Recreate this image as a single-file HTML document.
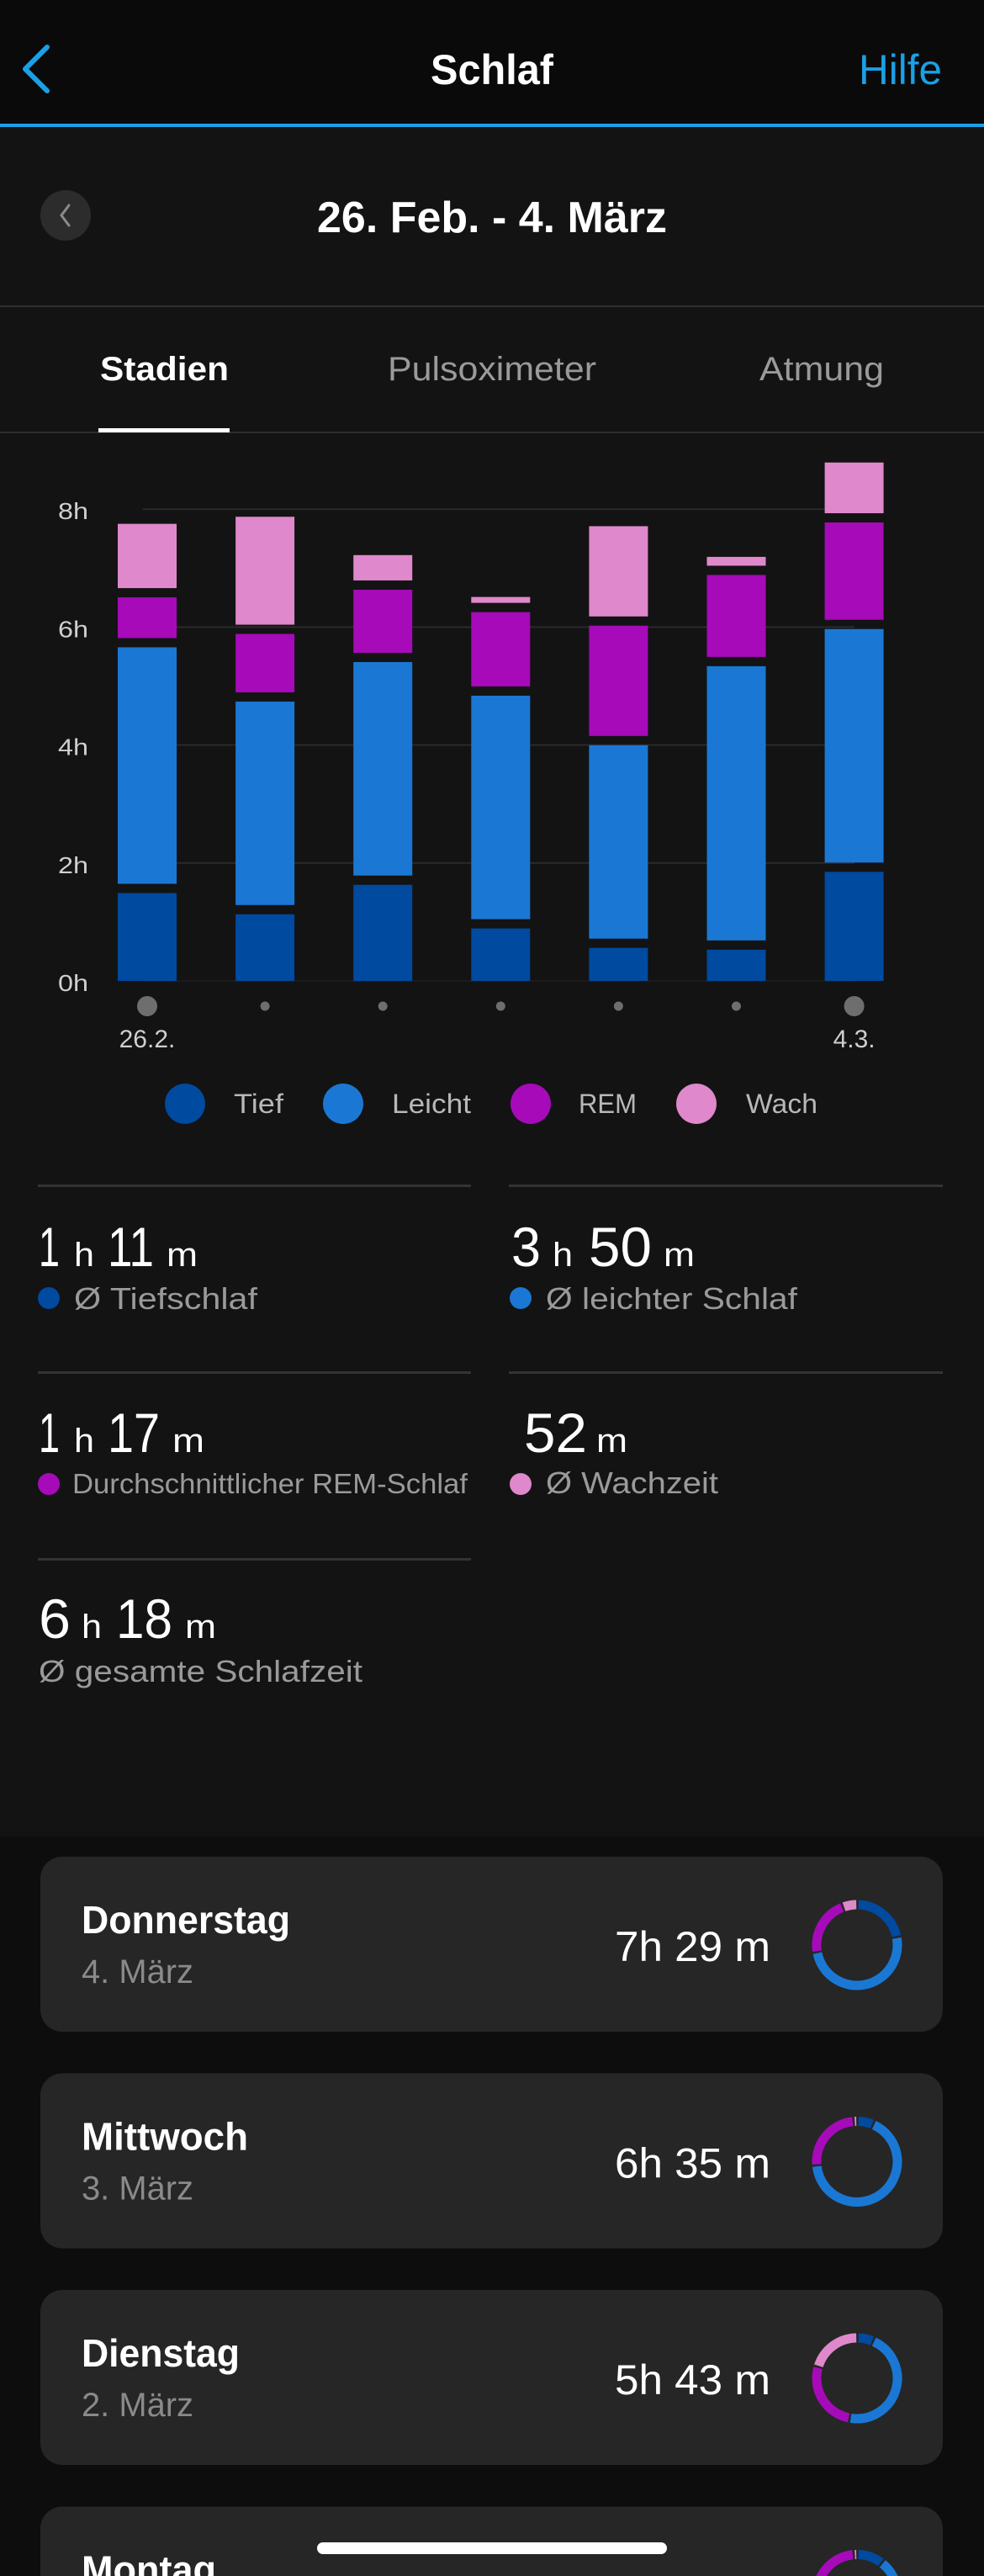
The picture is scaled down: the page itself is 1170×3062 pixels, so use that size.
<!DOCTYPE html>
<html><head><meta charset="utf-8">
<style>
html,body{margin:0;padding:0;background:#0d0d0d;}
svg{display:block;font-family:"Liberation Sans",sans-serif;}
</style></head>
<body>
<svg id="page" width="1170" height="3062" viewBox="0 0 1170 3062" xmlns="http://www.w3.org/2000/svg">
  <rect x="0" y="0" width="1170" height="3062" fill="#0d0d0d"/>
  <rect x="0" y="149" width="1170" height="2034" fill="#131313"/>
  <rect x="0" y="0" width="1170" height="147" fill="#0a0a0a"/>
  <rect x="0" y="147" width="1170" height="4" fill="#1aa0e6"/>

  <path d="M56,56 L30,82 L56,108" fill="none" stroke="#1aa0e6" stroke-width="6" stroke-linecap="round" stroke-linejoin="round"/>
  <text x="512" y="100" font-size="50" font-weight="bold" fill="#fff" textLength="146" lengthAdjust="spacingAndGlyphs">Schlaf</text>
  <text x="1021" y="100" font-size="50" fill="#1aa0e6" textLength="99" lengthAdjust="spacingAndGlyphs">Hilfe</text>

  <g>
    <circle cx="78" cy="256" r="30" fill="#2c2c2c"/>
    <path d="M82,244 L73,256 L82,268" fill="none" stroke="#8a8a8a" stroke-width="3" stroke-linecap="round"/>
  </g>
  <text x="377" y="276" font-size="52" font-weight="bold" fill="#fff" textLength="416" lengthAdjust="spacingAndGlyphs">26. Feb. - 4. März</text>
  <rect x="0" y="363" width="1170" height="2" fill="#2e2e2e"/>

  <text x="119" y="452" font-size="40" font-weight="bold" fill="#fff" textLength="153" lengthAdjust="spacingAndGlyphs">Stadien</text>
  <text x="461" y="452" font-size="40" fill="#9a9a9a" textLength="248" lengthAdjust="spacingAndGlyphs">Pulsoximeter</text>
  <text x="903" y="452" font-size="40" fill="#9a9a9a" textLength="148" lengthAdjust="spacingAndGlyphs">Atmung</text>
  <rect x="0" y="513" width="1170" height="2" fill="#2e2e2e"/>
  <rect x="117" y="509" width="156" height="5" fill="#fff"/>

  <g id="chart"></g>

  <g>
    <g><circle cx="220" cy="1312" r="24" fill="#004a9f"/><text x="278" y="1323" font-size="32" fill="#b8b8b8" textLength="59" lengthAdjust="spacingAndGlyphs">Tief</text></g>
    <g><circle cx="408" cy="1312" r="24" fill="#1a78d4"/><text x="466" y="1323" font-size="32" fill="#b8b8b8" textLength="94" lengthAdjust="spacingAndGlyphs">Leicht</text></g>
    <g><circle cx="631" cy="1312" r="24" fill="#a60ab9"/><text x="688" y="1323" font-size="32" fill="#b8b8b8" textLength="69" lengthAdjust="spacingAndGlyphs">REM</text></g>
    <g><circle cx="828" cy="1312" r="24" fill="#df88cb"/><text x="887" y="1323" font-size="32" fill="#b8b8b8" textLength="85" lengthAdjust="spacingAndGlyphs">Wach</text></g>
  </g>

  <g fill="#fff" font-size="66">
    <rect x="45" y="1408" width="515" height="3" fill="#333"/>
    <rect x="605" y="1408" width="516" height="3" fill="#333"/>
    <rect x="45" y="1630" width="515" height="3" fill="#333"/>
    <rect x="605" y="1630" width="516" height="3" fill="#333"/>
    <rect x="45" y="1852" width="515" height="3" fill="#333"/>

    <g>
      <text x="46" y="1505" textLength="25" lengthAdjust="spacingAndGlyphs">1</text>
      <text x="88" y="1505" font-size="40" textLength="24" lengthAdjust="spacingAndGlyphs">h</text>
      <text x="128" y="1505" textLength="55" lengthAdjust="spacingAndGlyphs">11</text>
      <text x="198" y="1505" font-size="40" textLength="37" lengthAdjust="spacingAndGlyphs">m</text>
      <circle cx="58" cy="1543" r="13" fill="#004a9f"/>
      <text x="88" y="1556" font-size="36" fill="#9a9a9a" textLength="218" lengthAdjust="spacingAndGlyphs">Ø Tiefschlaf</text>
    </g>
    <g>
      <text x="608" y="1505" textLength="35" lengthAdjust="spacingAndGlyphs">3</text>
      <text x="657" y="1505" font-size="40" textLength="24" lengthAdjust="spacingAndGlyphs">h</text>
      <text x="700" y="1505" textLength="75" lengthAdjust="spacingAndGlyphs">50</text>
      <text x="789" y="1505" font-size="40" textLength="37" lengthAdjust="spacingAndGlyphs">m</text>
      <circle cx="619" cy="1543" r="13" fill="#1a78d4"/>
      <text x="649" y="1556" font-size="36" fill="#9a9a9a" textLength="299" lengthAdjust="spacingAndGlyphs">Ø leichter Schlaf</text>
    </g>
    <g>
      <text x="46" y="1726" textLength="25" lengthAdjust="spacingAndGlyphs">1</text>
      <text x="88" y="1726" font-size="40" textLength="24" lengthAdjust="spacingAndGlyphs">h</text>
      <text x="128" y="1726" textLength="62" lengthAdjust="spacingAndGlyphs">17</text>
      <text x="205" y="1726" font-size="40" textLength="38" lengthAdjust="spacingAndGlyphs">m</text>
      <circle cx="58" cy="1764" r="13" fill="#a60ab9"/>
      <text x="86" y="1775" font-size="33" fill="#9a9a9a" textLength="470" lengthAdjust="spacingAndGlyphs">Durchschnittlicher REM-Schlaf</text>
    </g>
    <g>
      <text x="623" y="1726" textLength="75" lengthAdjust="spacingAndGlyphs">52</text>
      <text x="709" y="1726" font-size="40" textLength="37" lengthAdjust="spacingAndGlyphs">m</text>
      <circle cx="619" cy="1764" r="13" fill="#df88cb"/>
      <text x="649" y="1775" font-size="36" fill="#9a9a9a" textLength="205" lengthAdjust="spacingAndGlyphs">Ø Wachzeit</text>
    </g>
    <g>
      <text x="46" y="1947" textLength="38" lengthAdjust="spacingAndGlyphs">6</text>
      <text x="97" y="1947" font-size="40" textLength="24" lengthAdjust="spacingAndGlyphs">h</text>
      <text x="138" y="1947" textLength="67" lengthAdjust="spacingAndGlyphs">18</text>
      <text x="220" y="1947" font-size="40" textLength="37" lengthAdjust="spacingAndGlyphs">m</text>
      <text x="46" y="1999" font-size="36" fill="#9a9a9a" textLength="385" lengthAdjust="spacingAndGlyphs">Ø gesamte Schlafzeit</text>
    </g>
  </g>

  <g id="cards"></g>

  <rect x="377" y="3022" width="416" height="14" rx="7" fill="#fff"/>
</svg>

<script>
const days = ["26.2.", "27.2.", "28.2.", "1.3.", "2.3.", "3.3.", "4.3."];
const deepHours  = [1.49, 1.13, 1.63, 0.89, 0.56, 0.53, 1.85];
const lightHours = [4.01, 3.45, 3.62, 3.79, 3.28, 4.65, 3.96];
const remHours   = [0.69, 0.99, 1.07, 1.26, 1.87, 1.39, 1.65];
const wakeHours  = [1.09, 1.83, 0.43, 0.10, 1.53, 0.15, 0.86];
const yTicks = [0, 2, 4, 6, 8];
const yTickLabels = ["0h", "2h", "4h", "6h", "8h"];
const shownDayLabels = ["26.2.", "4.3."];

const cardDays = ["Donnerstag", "Mittwoch", "Dienstag", "Montag"];
const cardDates = ["4. März", "3. März", "2. März", "1. März"];
const cardDurations = ["7h 29 m", "6h 35 m", "5h 43 m", "6h 30 m"];
const cardDeep  = [94, 22, 22, 37];
const cardLight = [218, 232, 160, 240];
const cardRem   = [96, 87, 92, 75];
const cardWake  = [25, 5, 71, 5];

const NS = "http://www.w3.org/2000/svg";
const colors = ["#004a9f", "#1a78d4", "#a60ab9", "#df88cb"];
function mk(tag, attrs, parent){
  const e = document.createElementNS(NS, tag);
  for (const k in attrs) e.setAttribute(k, attrs[k]);
  parent.appendChild(e);
  return e;
}
const baseY = 1166, pxPerHour = 70.1, gap = 11;
function yScale(h){ return baseY - h * pxPerHour; }
function xCenter(i){ return 175 + i * 140.1; }
const barW = 70;

const chart = document.getElementById("chart");
yTicks.forEach((t, i) => {
  const line = mk("rect", {x: 170, y: yScale(t) - 1, width: 846, height: 2, fill: t === 0 ? "#1c1c1c" : "#2a2a2a"}, chart);
  
  
  const lbl = mk("text", {x: 69, y: yScale(t) + 12, "font-size": 28, fill: "#cfcfcf", textLength: 36, lengthAdjust: "spacingAndGlyphs"}, chart);
  lbl.textContent = yTickLabels[i];
  
  
});

days.forEach((d, i) => {
  const series = [deepHours[i], lightHours[i], remHours[i], wakeHours[i]];
  let cum = 0;
  series.forEach((v, s) => {
    const bottom = yScale(cum) - s * gap;
    const h = v * pxPerHour;
    const r = mk("rect", {x: xCenter(i) - barW / 2, y: bottom - h, width: barW, height: h, fill: colors[s]}, chart);
    
    
    cum += v;
  });
  const big = (i === 0 || i === days.length - 1);
  const dot = mk("circle", {cx: xCenter(i), cy: 1196, r: big ? 12 : 5.5, fill: "#6e6e6e"}, chart);
  
  
  if (shownDayLabels.includes(d)) {
    const t = mk("text", {x: xCenter(i), y: 1245, "font-size": 30, fill: "#cfcfcf", "text-anchor": "middle"}, chart);
    t.textContent = d;
    
    
  }
});

const cards = document.getElementById("cards");
const titleLens = [248, 198, 188, 160];
function arcPath(cx, cy, r, a0, a1){
  const p = a => [cx + r * Math.sin(a * Math.PI / 180), cy - r * Math.cos(a * Math.PI / 180)];
  const [x0, y0] = p(a0), [x1, y1] = p(a1);
  return `M${x0},${y0} A${r},${r} 0 ${a1 - a0 > 180 ? 1 : 0} 1 ${x1},${y1}`;
}
cardDays.forEach((name, i) => {
  const top = 2207 + i * 257.5;
  const g = mk("g", {}, cards);
  
  
  mk("rect", {x: 48, y: top, width: 1073, height: 208, rx: 26, fill: "#262626"}, g);
  const t = mk("text", {x: 97, y: top + 91, "font-size": 46, "font-weight": "bold", fill: "#fff", textLength: titleLens[i], lengthAdjust: "spacingAndGlyphs"}, g);
  t.textContent = name;
  
  
  const s = mk("text", {x: 97, y: top + 150, "font-size": 40, fill: "#8a8a8a", textLength: 133, lengthAdjust: "spacingAndGlyphs"}, g);
  s.textContent = cardDates[i];
  
  
  const du = mk("text", {x: 731, y: top + 124, "font-size": 50, fill: "#fff", textLength: 185, lengthAdjust: "spacingAndGlyphs"}, g);
  du.textContent = cardDurations[i];
  
  
  const vals = [cardDeep[i], cardLight[i], cardRem[i], cardWake[i]];
  const total = vals.reduce((a, b) => a + b, 0);
  let a = 2;
  const cx = 1019, cy = top + 105;
  vals.forEach((v, k) => {
    const sweep = v / total * 360;
    const a0 = a, a1 = Math.max(a + 0.5, a + sweep - 3);
    const arc = mk("path", {d: arcPath(cx, cy, 48, a0, a1), fill: "none", stroke: colors[k], "stroke-width": 11}, g);
    
    
    a += sweep;
  });
});
</script>
</body></html>
